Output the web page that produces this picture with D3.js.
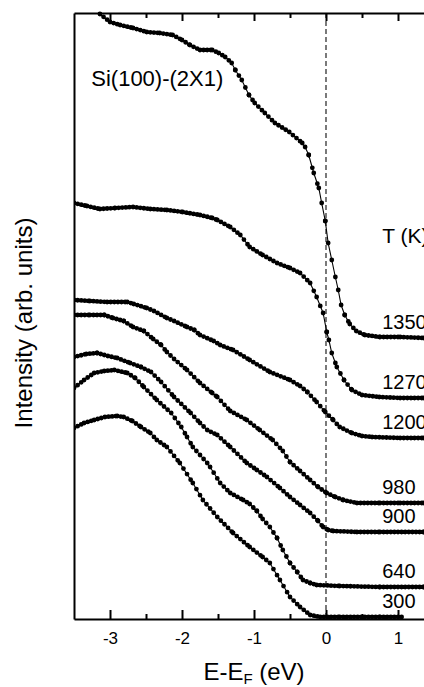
<!DOCTYPE html>
<html>
<head>
<meta charset="utf-8">
<script src="https://cdn.jsdelivr.net/npm/d3@7"></script>
<style>
  body { margin: 0; background: #fff; }
  svg { display: block; font-family: "Liberation Sans", Arial, Helvetica, sans-serif; }
  .axis path, .axis line { stroke: #000; stroke-width: 2; }
</style>
</head>
<body>
<svg id="chart" width="424" height="687"></svg>
<script>
// Sample temperatures (K), top spectrum to bottom spectrum
const temps = [1350, 1270, 1200, 980, 900, 640, 300];

// Spectra: [E - E_F (eV), intensity (arb. units)]
const spec1350 = [[-3.14,60.5],[-3.00,59.7],[-2.86,59.4],[-2.68,59.1],[-2.49,58.7],[-2.31,58.6],[-2.13,58.4],
  [-2.00,57.9],[-1.89,57.4],[-1.75,56.9],[-1.58,56.9],[-1.49,56.6],[-1.40,56.2],[-1.31,55.6],[-1.26,54.9],
  [-1.17,53.9],[-1.07,52.4],[-0.99,51.6],[-0.85,50.6],[-0.71,49.6],[-0.51,48.7],[-0.33,47.6],[-0.29,47.2],
  [-0.24,46.4],[-0.17,44.6],[-0.10,43.1],[-0.06,41.6],[-0.01,39.8],[0.03,37.6],[0.08,35.9],[0.13,34.2],
  [0.17,32.9],[0.21,31.4],[0.26,30.4],[0.33,29.5],[0.42,28.8],[0.54,28.4],[0.75,28.2],[1.03,28.2],
  [1.36,28.1],[1.50,28.1]];
const spec1270 = [[-3.50,41.6],[-3.32,41.3],[-3.14,41.0],[-2.93,41.1],[-2.68,41.2],[-2.44,41.0],[-2.21,40.9],
  [-1.99,40.7],[-1.75,40.4],[-1.58,40.1],[-1.51,39.9],[-1.33,39.2],[-1.19,38.4],[-1.06,37.2],[-0.88,36.4],
  [-0.68,35.6],[-0.50,35.1],[-0.36,34.6],[-0.22,33.6],[-0.13,32.2],[-0.04,30.6],[0.01,28.7],[0.04,27.9],
  [0.08,26.6],[0.15,25.2],[0.25,23.9],[0.36,22.9],[0.50,22.4],[0.74,22.2],[1.03,22.1],[1.36,22.1],[1.50,22.1]];
const spec1200 = [[-3.50,31.9],[-3.28,31.8],[-3.04,31.7],[-2.76,31.7],[-2.67,31.5],[-2.49,31.1],[-2.39,30.8],
  [-2.21,30.1],[-2.11,29.8],[-1.93,29.2],[-1.83,28.9],[-1.75,28.4],[-1.56,27.8],[-1.47,27.4],[-1.29,26.9],
  [-1.06,25.9],[-0.78,24.7],[-0.50,23.9],[-0.36,23.3],[-0.26,22.7],[-0.13,21.7],[-0.01,20.7],[0.10,19.9],
  [0.19,19.2],[0.36,18.6],[0.50,18.3],[0.64,18.2],[1.03,18.1],[1.36,18.1],[1.50,18.1]];
const spec980 = [[-3.50,30.4],[-3.28,30.4],[-3.08,30.4],[-2.96,30.1],[-2.81,29.8],[-2.68,29.2],[-2.53,28.8],
  [-2.40,28.0],[-2.29,27.4],[-2.21,26.7],[-2.11,26.0],[-1.93,24.9],[-1.75,23.6],[-1.58,22.6],[-1.51,22.2],
  [-1.33,20.8],[-1.10,19.9],[-0.92,18.9],[-0.74,17.9],[-0.60,16.8],[-0.50,15.7],[-0.36,14.8],[-0.22,13.9],
  [-0.11,13.2],[0.01,12.6],[0.13,12.2],[0.24,11.9],[0.43,11.6],[0.75,11.6],[1.03,11.6],[1.36,11.6],[1.50,11.6]];
const spec900 = [[-3.50,26.2],[-3.33,26.5],[-3.18,26.6],[-3.03,26.3],[-2.90,26.1],[-2.72,25.6],[-2.57,25.2],
  [-2.43,24.7],[-2.29,23.7],[-2.11,22.2],[-1.88,20.6],[-1.75,19.6],[-1.65,18.9],[-1.51,18.4],[-1.33,17.2],
  [-1.10,15.6],[-0.96,14.9],[-0.82,14.2],[-0.64,13.1],[-0.50,12.2],[-0.36,11.4],[-0.22,10.6],[-0.11,9.8],
  [-0.04,9.2],[0.03,8.9],[0.10,8.8],[0.43,8.7],[0.75,8.7],[1.36,8.7],[1.50,8.7]];
const spec640 = [[-3.50,23.1],[-3.36,23.9],[-3.22,24.6],[-3.08,24.8],[-2.94,24.9],[-2.76,24.6],[-2.65,24.1],
  [-2.53,23.2],[-2.35,21.9],[-2.15,20.6],[-2.01,19.2],[-1.93,18.2],[-1.85,17.2],[-1.75,16.4],[-1.65,15.6],
  [-1.61,15.2],[-1.47,13.6],[-1.33,12.6],[-1.15,11.9],[-1.06,11.5],[-0.96,10.8],[-0.88,10.0],[-0.78,9.2],
  [-0.68,8.1],[-0.60,6.9],[-0.50,5.6],[-0.40,4.7],[-0.32,3.9],[-0.22,3.6],[-0.13,3.4],[0.19,3.3],
  [0.75,3.2],[1.36,3.2],[1.50,3.2]];
const spec300 = [[-3.50,19.1],[-3.36,19.6],[-3.22,19.9],[-3.07,20.2],[-2.90,20.3],[-2.81,20.2],[-2.69,19.8],
  [-2.57,19.2],[-2.44,18.6],[-2.35,17.9],[-2.21,17.2],[-2.03,15.6],[-1.85,13.6],[-1.71,11.9],[-1.51,10.2],
  [-1.29,8.6],[-1.06,7.2],[-0.88,6.2],[-0.78,5.6],[-0.64,3.9],[-0.50,2.2],[-0.36,1.2],[-0.22,0.4],
  [-0.08,0.2],[0.19,0.2],[0.75,0.2],[1.07,0.2]];

const spectra = [spec1350, spec1270, spec1200, spec980, spec900, spec640, spec300];

// Axis ticks (eV)
const majorTicks = [-3, -2, -1, 0, 1];
const minorTicks = [-2.5, -1.5, -0.5, 0.5];

// energy step of the measured spectra, used to space the dots
const stepE = 0.05;

const svg = d3.select("#chart");

const x = d3.scaleLinear().domain([-3.5, 1.5]).range([74, 434]);
const y = d3.scaleLinear().domain([0, 60.6]).range([619, 13]);

const [x0, x1] = x.range();
const [yb, yt] = y.range();

svg.append("rect").attr("width", 424).attr("height", 687).attr("fill", "#fff");

svg.append("clipPath").attr("id", "plotclip")
  .append("rect")
  .attr("x", x0).attr("y", yt - 2)
  .attr("width", x1 - x0).attr("height", yb - yt + 4);

// Fermi level marker
svg.append("line")
  .attr("x1", x(0)).attr("x2", x(0))
  .attr("y1", yt).attr("y2", yb)
  .attr("stroke", "#222")
  .attr("stroke-width", 1.2)
  .attr("stroke-dasharray", "5,3");

// Spectra: thin line plus dots at a fixed energy step
const plot = svg.append("g").attr("clip-path", "url(#plotclip)");
const dotDx = x(stepE) - x(0);
const line = d3.line();

spectra.forEach(spec => {
  const pts = spec.map(d => [x(d[0]), y(d[1])]);
  plot.append("path")
    .attr("d", line(pts))
    .attr("fill", "none")
    .attr("stroke", "#000")
    .attr("stroke-width", 1.1);

  plot.append("g")
    .selectAll("path")
    .data(d3.pairs(pts))
    .enter()
    .append("path")
    .attr("d", d => line(d))
    .attr("fill", "none")
    .attr("stroke", "#000")
    .attr("stroke-width", 4.8)
    .attr("stroke-linecap", "round")
    .attr("stroke-dasharray", d => {
      const dx = d[1][0] - d[0][0], dy = d[1][1] - d[0][1];
      return "0 " + (dotDx * Math.hypot(dx, dy) / dx);
    });
});

// Bottom axis
svg.append("g")
  .attr("class", "axis")
  .attr("transform", `translate(0,${yb})`)
  .call(d3.axisBottom(x).tickValues(majorTicks).tickSize(-9).tickSizeOuter(0)
    .tickPadding(13).tickFormat(d => String(d)))
  .attr("font-size", 17)
  .attr("font-family", "'Liberation Sans', Arial, sans-serif")
  .call(g => g.selectAll("text").attr("fill", "#000"));
svg.append("g")
  .attr("class", "axis")
  .attr("transform", `translate(0,${yb})`)
  .call(d3.axisBottom(x).tickValues(minorTicks).tickSize(-5).tickFormat(""))
  .call(g => g.select(".domain").remove());

// Top axis
svg.append("g")
  .attr("class", "axis")
  .attr("transform", `translate(0,${yt})`)
  .call(d3.axisTop(x).tickValues(majorTicks).tickSize(-8).tickSizeOuter(0).tickFormat(""));
svg.append("g")
  .attr("class", "axis")
  .attr("transform", `translate(0,${yt})`)
  .call(d3.axisTop(x).tickValues(minorTicks).tickSize(-5).tickFormat(""))
  .call(g => g.select(".domain").remove());

// Left axis (no ticks)
svg.append("g")
  .attr("class", "axis")
  .attr("transform", `translate(${x0},0)`)
  .call(d3.axisLeft(y).tickValues([]).tickSizeOuter(0));

// Axis titles
const xt = svg.append("text")
  .attr("x", (x0 + x1) / 2)
  .attr("y", 680)
  .attr("text-anchor", "middle")
  .style("font-size", "24px");
xt.append("tspan").text("E-E");
xt.append("tspan").attr("dy", 4).style("font-size", "15px").text("F");
xt.append("tspan").attr("dy", -4).text(" (eV)");

svg.append("text")
  .attr("transform", "rotate(-90)")
  .attr("x", -323)
  .attr("y", 32)
  .attr("text-anchor", "middle")
  .style("font-size", "24px")
  .text("Intensity (arb. units)");

// Annotations
svg.append("text")
  .attr("x", x(-3.26))
  .attr("y", y(53.3))
  .style("font-size", "22px")
  .text("Si(100)-(2X1)");

svg.append("text")
  .attr("x", x(0.78))
  .attr("y", y(37.6))
  .style("font-size", "21px")
  .text("T (K)");

svg.append("g")
  .selectAll("text")
  .data(temps)
  .enter()
  .append("text")
  .attr("x", x(0.78))
  .attr("y", (t, i) => y(spectra[i][spectra[i].length - 1][1]) - 9)
  .style("font-size", "20px")
  .text(t => t);
</script>
</body>
</html>
